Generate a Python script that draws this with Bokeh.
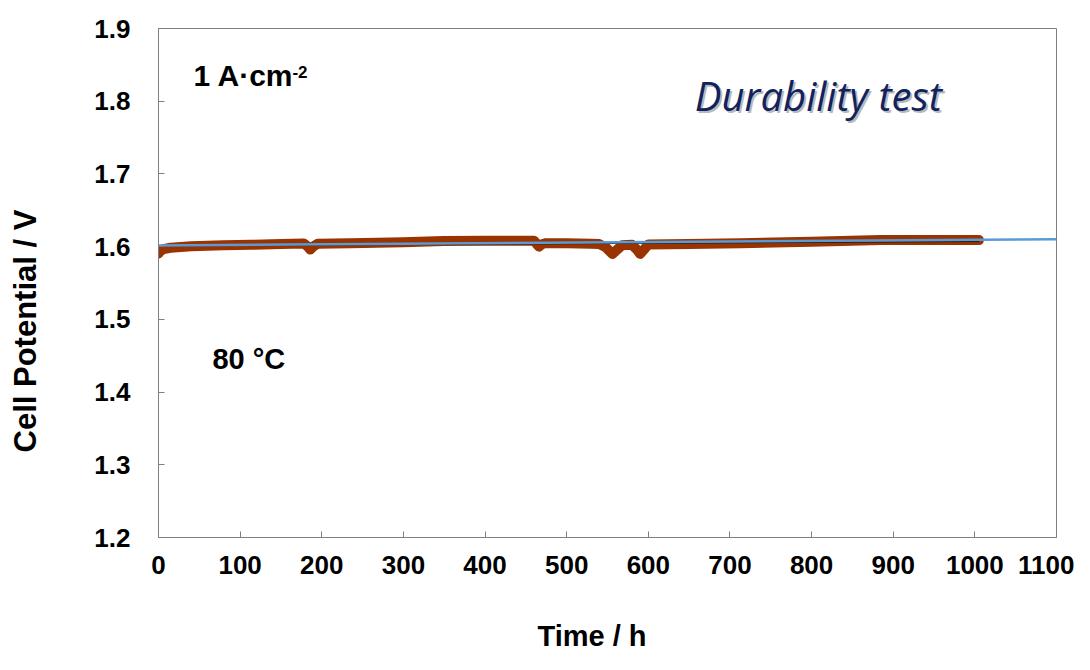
import math
from bokeh.plotting import figure
from bokeh.models import Range1d, FixedTicker, Label, LinearAxis, Title
from bokeh.embed import file_html
from bokeh.resources import INLINE

time_h = [0, 2, 6, 15, 40, 80, 113, 150, 178, 182,
          186, 190, 195, 235, 300, 349, 400, 460, 463, 466,
          469, 473, 500, 530, 540, 548, 556, 562, 568, 580,
          586, 590, 594, 600, 650, 713, 800, 885, 950, 1005]
potential_v = [1.5905, 1.5935, 1.5965, 1.5985, 1.6005, 1.6018, 1.6026, 1.6035, 1.6044, 1.6010,
               1.5960, 1.6005, 1.6040, 1.6048, 1.6062, 1.6076, 1.6080, 1.6082, 1.6040, 1.6000,
               1.6030, 1.6045, 1.6045, 1.6040, 1.6035, 1.5990, 1.5900, 1.5960, 1.6020, 1.6025,
               1.5960, 1.5900, 1.5950, 1.6030, 1.6035, 1.6048, 1.6068, 1.6090, 1.6090, 1.6090]

# Linear trend lines
fit_time_h = [0, 1100]
fit_potential_v = [1.6017, 1.6103]
dark_time_h = [0, 1005]
dark_potential_v = [1.6010, 1.6070]

x_ticks = [0, 100, 200, 300, 400, 500, 600, 700, 800, 900, 1000, 1100]
y_ticks = [1.2, 1.3, 1.4, 1.5, 1.6, 1.7, 1.8, 1.9]
y_tick_labels = ["1.2", "1.3", "1.4", "1.5", "1.6", "1.7", "1.8", "1.9"]

p = figure(width=1074, height=654, output_backend="svg", toolbar_location=None,
           x_range=Range1d(0, 1100), y_range=Range1d(1.2, 1.9),
           min_border_left=158, min_border_right=18, min_border_top=28,
           min_border_bottom=117)
p.xgrid.visible = False
p.ygrid.visible = False
p.outline_line_color = "#7f7f7f"
p.outline_line_width = 1
p.background_fill_color = "white"
p.border_fill_color = "white"

for ax in (p.xaxis[0], p.yaxis[0]):
    ax.axis_line_color = "#7f7f7f"
    ax.major_tick_line_color = "#7f7f7f"
    ax.major_tick_in = 6
    ax.major_tick_out = 0
    ax.minor_tick_line_color = None
    ax.major_label_text_font = "Liberation Sans"
    ax.major_label_text_font_style = "bold"
    ax.major_label_text_font_size = "26px"
    ax.major_label_text_color = "black"

p.xaxis.ticker = FixedTicker(ticks=x_ticks)
p.yaxis.ticker = FixedTicker(ticks=y_ticks)
p.yaxis.major_label_overrides = {t: s for t, s in zip(y_ticks, y_tick_labels)}
p.xaxis.major_label_standoff = 18
p.yaxis.major_label_standoff = 28

has_standoff = "standoff" in Title.properties()


def spacer(standoff):
    return LinearAxis(ticker=FixedTicker(ticks=[]), axis_label=".",
                      axis_label_standoff=standoff, axis_label_text_alpha=0,
                      axis_label_text_font_size="10px",
                      axis_line_color=None, major_tick_line_color=None,
                      minor_tick_line_color=None, major_tick_in=0, major_tick_out=0,
                      major_label_standoff=0)


tfont = dict(text_font="Liberation Sans", text_font_style="bold", text_color="black")

# y-axis title
p.add_layout(spacer(30 if has_standoff else 26), "left")
yt = Title(text="Cell Potential / V", align="left", offset=85,
           vertical_align="top" if has_standoff else "middle",
           text_font_size="31px", **tfont)
if has_standoff:
    yt.standoff = 12
p.add_layout(yt, "left")

# x-axis title
p.add_layout(spacer(30 if has_standoff else 16), "below")
xt = Title(text="Time / h", align="left", offset=379, vertical_align="bottom",
           text_font_size="29px", **tfont)
if has_standoff:
    xt.standoff = 0
p.add_layout(xt, "below")

p.line(time_h, potential_v, line_color="#993300", line_width=10,
       line_cap="round", line_join="round")
p.line(dark_time_h, dark_potential_v, line_color="#1a1a1a", line_width=1)
p.line(fit_time_h, fit_potential_v, line_color="#5b9bd5", line_width=2.5)

p.add_layout(Label(x=43, y=1.8354, text="1 A·cm", text_font_size="30px",
                   text_baseline="middle", **tfont))
p.add_layout(Label(x=164, y=1.8395, text="-2", text_font_size="17px",
                   text_baseline="middle", **tfont))
p.add_layout(Label(x=66, y=1.4448, text="80 °C", text_font_size="29px",
                   text_baseline="middle", **tfont))

p.add_layout(Label(x=657, y=1.8072, text="Durability test", text_font="Open Sans",
                   text_font_style="italic", text_font_size="40px",
                   text_color="#9a9a9a", text_alpha=0.7, x_offset=2, y_offset=-2,
                   text_baseline="middle"))
p.add_layout(Label(x=657, y=1.8072, text="Durability test", text_font="Open Sans",
                   text_font_style="italic", text_font_size="40px",
                   text_color="#10235f", text_baseline="middle"))

open("out.html", "w").write(file_html(p, INLINE))
